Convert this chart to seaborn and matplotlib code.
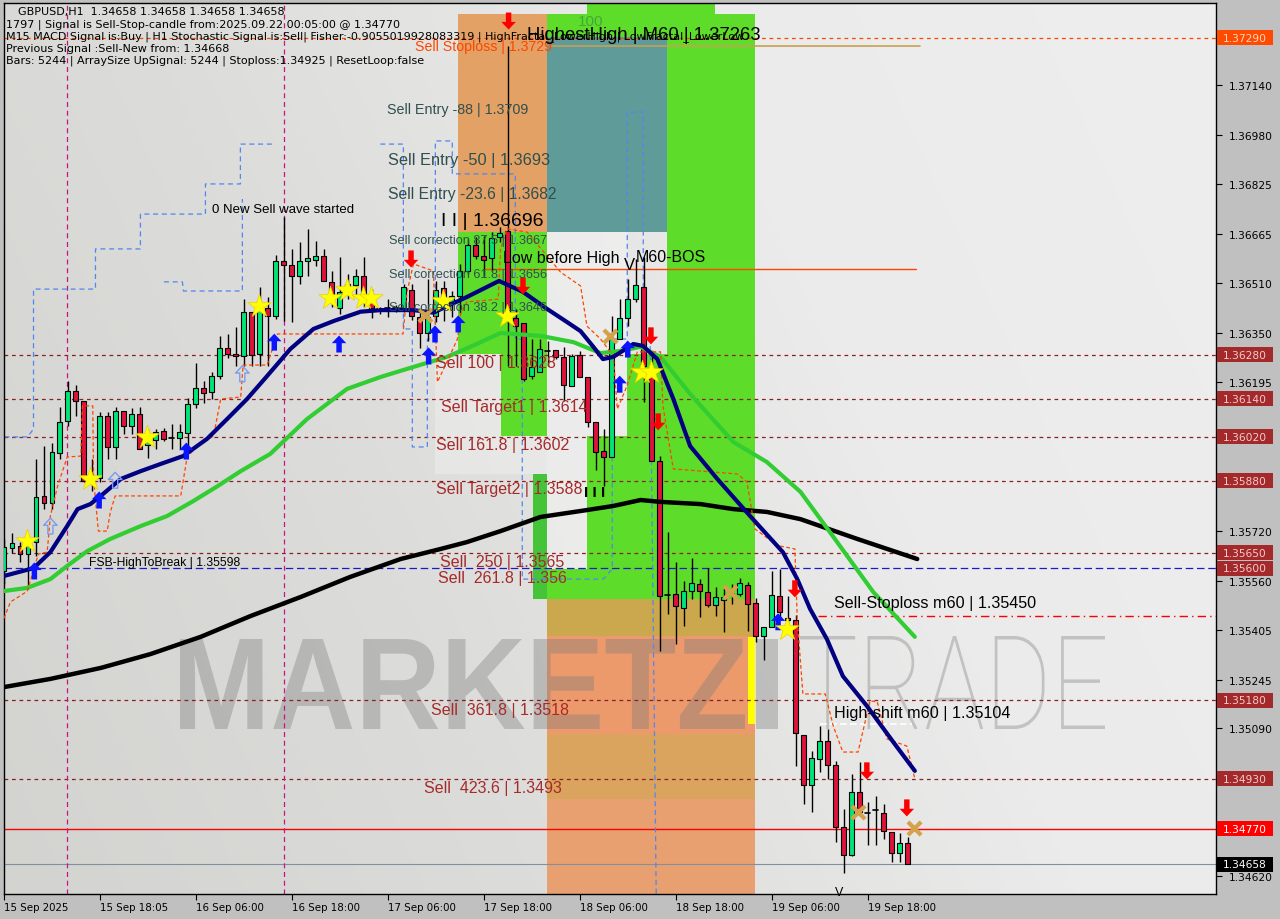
import numpy as np
import pandas as pd
import matplotlib
matplotlib.use("Agg")
import matplotlib.pyplot as plt
import seaborn as sns
from matplotlib.path import Path
from matplotlib.patches import Rectangle, PathPatch
from matplotlib.colors import LinearSegmentedColormap
from matplotlib.textpath import TextPath
from matplotlib.font_manager import FontProperties
import matplotlib.transforms as mtransforms

# ---------------- data ----------------
x_labels = ["15 Sep 2025", "15 Sep 18:05", "16 Sep 06:00", "16 Sep 18:00", "17 Sep 06:00",
            "17 Sep 18:00", "18 Sep 06:00", "18 Sep 18:00", "19 Sep 06:00", "19 Sep 18:00"]
x_label_bars = [0, 12, 24, 36, 48, 60, 72, 84, 96, 108]

opens = [
1.35592, 1.35665, 1.35671, 1.35646, 1.35684, 1.35831, 1.35808, 1.35968, 1.36070, 1.36165,
1.36133, 1.35891, 1.35888, 1.36086, 1.35987, 1.36102, 1.36054, 1.36092, 1.35993, 1.36009,
1.36038, 1.36013, 1.36016, 1.36032, 1.36124, 1.36175, 1.36162, 1.36213, 1.36302, 1.36283,
1.36277, 1.36418, 1.36283, 1.36431, 1.36404, 1.36579, 1.36567, 1.36532, 1.36579, 1.36583,
1.36595, 1.36513, 1.36431, 1.36481, 1.36503, 1.36532, 1.36445, 1.36431, 1.36427, 1.36428,
1.36427, 1.36487, 1.36401, 1.36350, 1.36404, 1.36493, 1.36449, 1.36468, 1.36548, 1.36630,
1.36595, 1.36589, 1.36656, 1.36675, 1.36398, 1.36382, 1.36213, 1.36226, 1.36296, 1.36296,
1.36274, 1.36181, 1.36280, 1.36210, 1.36067, 1.35974, 1.35955, 1.36331, 1.36398, 1.36458,
1.36498, 1.36226, 1.35942, 1.35518, 1.35518, 1.35473, 1.35527, 1.35550, 1.35524, 1.35483,
1.35499, 1.35515, 1.35518, 1.35547, 1.35490, 1.35385, 1.35413, 1.35512, 1.35442, 1.35436,
1.35069, 1.34910, 1.34993, 1.35050, 1.34974, 1.34776, 1.34687, 1.34888, 1.34824, 1.34827,
1.34821, 1.34760, 1.34693, 1.34725]
highs = [
1.35694, 1.35713, 1.35684, 1.35684, 1.35949, 1.35990, 1.36000, 1.36114, 1.36197, 1.36184,
1.36133, 1.35949, 1.36099, 1.36099, 1.36114, 1.36102, 1.36111, 1.36114, 1.36044, 1.36044,
1.36048, 1.36060, 1.36060, 1.36143, 1.36255, 1.36197, 1.36226, 1.36341, 1.36347, 1.36369,
1.36458, 1.36418, 1.36498, 1.36465, 1.36599, 1.36720, 1.36618, 1.36640, 1.36681, 1.36643,
1.36618, 1.36548, 1.36592, 1.36538, 1.36554, 1.36592, 1.36490, 1.36434, 1.36458, 1.36440,
1.36506, 1.36506, 1.36427, 1.36522, 1.36516, 1.36516, 1.36484, 1.36570, 1.36650, 1.36656,
1.36659, 1.36672, 1.36688, 1.37264, 1.36427, 1.36382, 1.36331, 1.36331, 1.36325, 1.36296,
1.36306, 1.36283, 1.36293, 1.36210, 1.36067, 1.36044, 1.36404, 1.36458, 1.36522, 1.36586,
1.36592, 1.36290, 1.35958, 1.35716, 1.35620, 1.35560, 1.35633, 1.35566, 1.35601, 1.35540,
1.35537, 1.35550, 1.35569, 1.35556, 1.35506, 1.35413, 1.35592, 1.35598, 1.35512, 1.35452,
1.35069, 1.35018, 1.35098, 1.35088, 1.34987, 1.34834, 1.34945, 1.34983, 1.34856, 1.34875,
1.34850, 1.34760, 1.34757, 1.34744]
lows = [
1.35550, 1.35649, 1.35621, 1.35535, 1.35640, 1.35789, 1.35789, 1.35949, 1.36054, 1.36086,
1.35875, 1.35847, 1.35875, 1.35949, 1.35949, 1.36029, 1.36029, 1.35981, 1.35952, 1.35981,
1.36006, 1.35981, 1.35981, 1.35981, 1.36111, 1.36127, 1.36140, 1.36204, 1.36270, 1.36245,
1.36245, 1.36245, 1.36245, 1.36245, 1.36395, 1.36388, 1.36385, 1.36506, 1.36532, 1.36564,
1.36516, 1.36434, 1.36411, 1.36458, 1.36468, 1.36434, 1.36398, 1.36411, 1.36401, 1.36418,
1.36418, 1.36392, 1.36302, 1.36325, 1.36385, 1.36388, 1.36401, 1.36415, 1.36538, 1.36586,
1.36532, 1.36548, 1.36640, 1.36245, 1.36245, 1.36197, 1.36204, 1.36226, 1.36245, 1.36267,
1.36133, 1.36181, 1.36210, 1.36051, 1.35914, 1.35862, 1.35955, 1.36331, 1.36372, 1.36449,
1.36130, 1.35942, 1.35337, 1.35455, 1.35359, 1.35416, 1.35503, 1.35445, 1.35477, 1.35448,
1.35397, 1.35487, 1.35512, 1.35400, 1.35365, 1.35308, 1.35413, 1.35439, 1.35423, 1.34971,
1.34850, 1.34824, 1.34952, 1.34930, 1.34729, 1.34630, 1.34684, 1.34811, 1.34719, 1.34719,
1.34738, 1.34665, 1.34665, 1.34658]
closes = [
1.35668, 1.35681, 1.35646, 1.35671, 1.35828, 1.35808, 1.35971, 1.36067, 1.36165, 1.36133,
1.35879, 1.35879, 1.36086, 1.35987, 1.36102, 1.36054, 1.36092, 1.35981, 1.36029, 1.36035,
1.36013, 1.36016, 1.36035, 1.36124, 1.36175, 1.36159, 1.36213, 1.36302, 1.36283, 1.36277,
1.36418, 1.36280, 1.36434, 1.36404, 1.36579, 1.36567, 1.36532, 1.36579, 1.36589, 1.36595,
1.36516, 1.36458, 1.36481, 1.36506, 1.36532, 1.36449, 1.36431, 1.36428, 1.36431, 1.36431,
1.36498, 1.36404, 1.36350, 1.36401, 1.36487, 1.36449, 1.36468, 1.36548, 1.36630, 1.36595,
1.36583, 1.36653, 1.36669, 1.36395, 1.36372, 1.36204, 1.36242, 1.36299, 1.36293, 1.36274,
1.36184, 1.36277, 1.36210, 1.36067, 1.35971, 1.35955, 1.36331, 1.36398, 1.36458, 1.36503,
1.36245, 1.35942, 1.35512, 1.35515, 1.35479, 1.35527, 1.35553, 1.35527, 1.35483, 1.35509,
1.35509, 1.35518, 1.35553, 1.35487, 1.35385, 1.35413, 1.35515, 1.35461, 1.35436, 1.35076,
1.34910, 1.34996, 1.35050, 1.34974, 1.34776, 1.34687, 1.34888, 1.34824, 1.34821, 1.34830,
1.34764, 1.34693, 1.34725, 1.34658]

# moving averages (bar index, price)
navy_idx = [0, 3.7, 5.8, 7.9, 9.2, 10.8, 12.1, 14.6, 17.1, 19.6, 22.4, 25.4, 27.9, 30.4, 32.9, 35.8,
            38.7, 41.2, 44.6, 47.1, 51.2, 53.7, 57.9, 61.9, 64.9, 67.9, 70.4, 72.1, 73.7, 74.9, 76.2,
            78.7, 79.9, 81.7, 83.7, 85.8, 89.2, 93.3, 97.4, 99.2, 100.8, 102.9, 104.9, 107.9, 111.2, 113.9]
navy_val = [1.35576, 1.35601, 1.35652, 1.35735, 1.35789, 1.35805, 1.35831, 1.35885, 1.35910, 1.35933,
            1.35958, 1.36013, 1.36076, 1.36140, 1.36213, 1.36299, 1.36363, 1.36388, 1.36418, 1.36423,
            1.36423, 1.36415, 1.36465, 1.36516, 1.36481, 1.36427, 1.36385, 1.36356, 1.36306, 1.36267,
            1.36274, 1.36315, 1.36309, 1.36267, 1.36140, 1.35990, 1.35885, 1.35767, 1.35652, 1.35566,
            1.35471, 1.35375, 1.35257, 1.35162, 1.35047, 1.34955]
green_idx = [0, 2.9, 5.8, 7.9, 10.4, 13.3, 17.1, 20.4, 23.7, 26.7, 29.6, 33.3, 37.9, 42.9, 47.1, 51.2,
             55.4, 58.3, 62.1, 67.1, 71.2, 74.6, 77.1, 79.6, 82.1, 85.8, 91.2, 95.4, 99.6, 103.9, 108.7, 113.9]
green_val = [1.35528, 1.35538, 1.35566, 1.35608, 1.35655, 1.35694, 1.35735, 1.35767, 1.35815, 1.35862,
             1.35910, 1.35965, 1.36076, 1.36172, 1.36210, 1.36242, 1.36274, 1.36306, 1.36350, 1.36341,
             1.36321, 1.36286, 1.36293, 1.36306, 1.36274, 1.36156, 1.36003, 1.35939, 1.35844, 1.35694,
             1.35525, 1.35382]
black_idx = [0, 5.8, 12.1, 18.3, 24.6, 30.8, 37.1, 43.3, 49.6, 54.6, 57.9, 62.1, 67.1, 72.9, 76.2,
             79.6, 82.1, 87.1, 91.2, 95.4, 99.6, 106.7, 114.2]
black_val = [1.35222, 1.35248, 1.35283, 1.35327, 1.35382, 1.35448, 1.35509, 1.35573, 1.35630, 1.35662,
             1.35684, 1.35719, 1.35764, 1.35786, 1.35799, 1.35818, 1.35812, 1.35805, 1.35789, 1.35780,
             1.35757, 1.35694, 1.35630]
trail_idx = [0, 0.8, 2.9, 4.3, 5.4, 5.8, 6.7, 7.9, 9.6, 9.8, 11.1, 11.2, 11.8, 12.9, 13.3, 13.9, 22.1,
             22.9, 24.2, 26.2, 27.1, 29.6, 29.9, 32.9, 34.2, 49.9, 50.4, 51.2, 53.7, 54.2, 55.4, 56.7,
             57.1, 57.9, 61.8, 62.1, 62.9, 65.4, 69.6, 72.1, 72.9, 74.6, 76.2, 76.7, 77.9, 79.2, 82.1,
             82.4, 83.7, 91.7, 92.9, 93.9, 96.7, 98.9, 99.2, 99.9, 102.7, 103.7, 104.9, 106.8, 108.3,
             109.2, 110.4, 112.9, 113.9]
trail_val = [1.35441, 1.35493, 1.35527, 1.35646, 1.35652, 1.35767, 1.35862, 1.35955, 1.35958, 1.36118,
             1.36118, 1.35885, 1.35719, 1.35719, 1.35780, 1.35831, 1.35831, 1.35955, 1.35990, 1.36022,
             1.36140, 1.36146, 1.36248, 1.36248, 1.36347, 1.36347, 1.36481, 1.36570, 1.36548, 1.36194,
             1.36258, 1.36331, 1.36411, 1.36449, 1.36458, 1.36618, 1.36682, 1.36672, 1.36544, 1.36500,
             1.36372, 1.36331, 1.36277, 1.36108, 1.36181, 1.36290, 1.36290, 1.36118, 1.35917, 1.35901,
             1.35876, 1.35726, 1.35673, 1.35662, 1.35439, 1.35200, 1.35200, 1.35098, 1.35015, 1.35015,
             1.35178, 1.35175, 1.35057, 1.35034, 1.34930]

# blue dashed price-channel pieces (bar index, price); None separates pieces
chan_idx = [0.06, 2.94, 3.69, 3.69, 11.44, 11.44, 17.06, 17.06, 25.19, 25.19, 29.56, 29.56, 33.56, None,
            20.0, 22.31, 22.44, 29.81, 29.81, None,
            47.06, 49.94, 49.94, 51.06, 51.06, 52.94, 52.94, 53.94, 53.94, 56.06, 56.06, 63.94, 63.94,
            64.81, 64.81, 74.94, 76.06, 76.06, 77.94, 77.94, 79.94, 79.94, 80.8, 81.56]
chan_val = [1.36019, 1.36019, 1.36044, 1.36490, 1.36490, 1.36618, 1.36618, 1.36729, 1.36729, 1.36825,
            1.36825, 1.36952, 1.36952, None,
            1.36513, 1.36513, 1.36484, 1.36484, 1.36777, None,
            1.36952, 1.36952, 1.36363, 1.36363, 1.35987, 1.35987, 1.36331, 1.36331, 1.36962, 1.36962,
            1.36857, 1.36857, 1.36331, 1.36331, 1.35566, 1.35566, 1.35598, 1.36331, 1.36331, 1.37054,
            1.37054, 1.36331, 1.36331, 1.34563]

# signals (bar index, price)
up_idx = [3.8, 11.9, 22.8, 33.8, 41.9, 53.1, 53.9, 56.8, 77.0, 78.0, 96.8]
up_val = [1.35592, 1.35818, 1.35974, 1.36321, 1.36315, 1.36277, 1.36347, 1.36379, 1.36187, 1.36299, 1.35430]
hollow_idx = [5.8, 13.9, 29.8]
hollow_val = [1.35735, 1.35881, 1.36220]
down_idx = [50.9, 63.1, 64.9, 80.9, 81.8, 98.9, 107.9, 112.9]
down_val = [1.36586, 1.37344, 1.36500, 1.36341, 1.36067, 1.35535, 1.34955, 1.34837]
star_idx = [2.9, 10.8, 17.9, 31.9, 40.8, 42.9, 44.9, 45.9, 54.9, 62.9, 79.8, 80.9, 97.9]
star_val = [1.35688, 1.35885, 1.36019, 1.36435, 1.36462, 1.36487, 1.36462, 1.36462, 1.36452, 1.36404,
            1.36226, 1.36226, 1.35408]
cross_idx = [52.7, 75.8, 90.8, 106.8, 113.8]
cross_val = [1.36407, 1.36341, 1.35524, 1.34824, 1.34773]

# levels
dashed_levels = [1.36280, 1.36140, 1.36020, 1.35880, 1.35650, 1.35180, 1.34930]
stoploss_level = 1.37290
fsb_level = 1.35600
m60_stop_level = 1.35450
signal_level = 1.34770
bid_level = 1.34658
highest_high = 1.37263
low_before_high = 1.36554
high_shift = 1.35104
separator_bars = [7.94, 35.06]

y_ticks = [1.37140, 1.36980, 1.36825, 1.36665, 1.36510, 1.36350, 1.36195, 1.36035,
           1.35720, 1.35560, 1.35405, 1.35245, 1.35090, 1.34620]
box_levels = [1.37290, 1.36280, 1.36140, 1.36020, 1.35880, 1.35650, 1.35600, 1.35180, 1.34930, 1.34770, 1.34658]
box_colors = ["#ff4a00"] + ["#a3292b"] * 8 + ["#ff0000", "#000000"]

# zones: (bar0, bar1, price0, price1, colour)
light_zones = [
    (67.9, 77.9, 1.36022, 1.36672, "#f2f2f2"),
    (67.9, 72.9, 1.35598, 1.36022, "#f2f2f2"),
    (53.9, 69.6, 1.35901, 1.36283, "#ececec"),
]
zones = [
    (56.8, 67.9, 1.36672, 1.37366, "#e3a165"),
    (67.9, 82.9, 1.36672, 1.37293, "#5f9c99"),
    (67.9, 93.9, 1.37293, 1.37366, "#5edc2a"),
    (72.9, 88.9, 1.37366, 1.37410, "#5edc2a"),
    (82.9, 93.9, 1.35503, 1.37293, "#5edc2a"),
    (56.8, 67.9, 1.36283, 1.36672, "#5edc2a"),
    (62.1, 67.9, 1.36022, 1.36283, "#5edc2a"),
    (66.1, 67.9, 1.35503, 1.35901, "#45c43a"),
    (72.9, 82.9, 1.35503, 1.36022, "#5edc2a"),
    (77.9, 82.9, 1.36022, 1.36283, "#5edc2a"),
    (67.9, 72.9, 1.35503, 1.35598, "#5edc2a"),
    (67.9, 93.9, 1.35385, 1.35503, "#cba84e"),
    (67.9, 93.9, 1.35072, 1.35385, "#ec9a6c"),
    (67.9, 93.9, 1.34865, 1.35072, "#daa35e"),
    (67.9, 93.9, 1.34560, 1.34865, "#e8a070"),
]

# ---------------- figure ----------------
sns.set_theme(style="white")
plt.rcParams["font.family"] = ["DejaVu Sans"]

W, H = 1280, 920
L, R, T, B = 4, 1216, 4, 895
fig = plt.figure(figsize=(W / 100, H / 100), dpi=100, facecolor="#c0c0c0")
ax = fig.add_axes([L / W, 1 - B / H, (R - L) / W, (B - T) / H])
x0, x1 = (L - 3.5) / 8, (R - 3.5) / 8
y0, y1 = 1.345627, 1.374015
ax.set_xlim(x0, x1)
ax.set_ylim(y0, y1)

# background gradient
gx, gy = np.meshgrid(np.linspace(0, 1, 300), np.linspace(0, 1, 200))
grad = np.clip(0.75 * gx + 0.25 * gy, 0, 1)
cmap = LinearSegmentedColormap.from_list("bg", ["#d3d3d0", "#dcdcda", "#ebebeb", "#eeeeee"])
ax.imshow(grad, extent=[x0, x1, y0, y1], origin="lower", aspect="auto", cmap=cmap, zorder=0)

for (a, b, p, q, c) in light_zones:
    ax.add_patch(Rectangle((a, p), b - a, q - p, facecolor=c, edgecolor="none", alpha=0.6, zorder=0.8))
for (a, b, p, q, c) in zones:
    ax.add_patch(Rectangle((a, p), b - a, q - p, facecolor=c, edgecolor="none", zorder=1))

figT = fig.transFigure
def fx(x):
    return x / W
def fy(y):
    return 1 - y / H

# watermark drawn as text paths fitted to a pixel box
def watermark(s, box, prop, color="#7a7a7a", alpha=0.36):
    tp = TextPath((0, 0), s, size=100, prop=prop)
    ext = tp.get_extents()
    bx0, bx1, by_top, by_bot = box
    tr = (mtransforms.Affine2D()
          .translate(-ext.x0, -ext.y0)
          .scale((bx1 - bx0) / ext.width / W, (by_bot - by_top) / ext.height / H)
          .translate(fx(bx0), fy(by_bot)) + figT)
    ax.add_patch(PathPatch(tp, transform=tr, facecolor=color, edgecolor="none", alpha=alpha, zorder=1.5))

watermark("MARKETZ", (180, 745, 640, 730), FontProperties(family="Liberation Sans", weight="bold"))
watermark("TRADE", (800, 1105, 637, 730), FontProperties(family="Roboto", weight="light"))
ax.add_patch(Rectangle((fx(756), fy(730)), (778 - 756) / W, 90 / H, transform=figT,
                       facecolor="#7a7a7a", alpha=0.36, edgecolor="none", zorder=1.5))
ax.add_patch(Rectangle((fx(748), fy(725)), 7 / W, 87 / H, transform=figT,
                       facecolor="#ffff00", edgecolor="none", zorder=1.6))

# horizontal levels
for lv in dashed_levels:
    ax.axhline(lv, color="#8b2020", lw=0.9, ls=(0, (3, 3)), zorder=2)
ax.axhline(stoploss_level, color="#ff4500", lw=0.9, ls=(0, (3, 3)), zorder=2)
ax.axhline(fsb_level, color="#1a1acc", lw=0.9, ls=(0, (6, 3)), zorder=2)
ax.axhline(signal_level, color="#ff0000", lw=1.0, zorder=2)
ax.axhline(bid_level, color="#8090a0", lw=0.8, zorder=2)
ax.plot([101.8, x1], [m60_stop_level] * 2, color="#ff0000", lw=1.0, ls=(0, (6, 3, 1, 3)), zorder=2)
ax.plot([67.9, 114.5], [highest_high] * 2, color="#c8a050", lw=1.2, zorder=2)
ax.plot([60.2, 114.0], [low_before_high] * 2, color="#ff4500", lw=1.0, zorder=2)
ax.plot([102.0, 113.5], [high_shift] * 2, color="#ffffff", lw=1.2, ls=(0, (4, 2)), zorder=2)
for sb in separator_bars:
    ax.axvline(sb, color="#c71585", lw=0.9, ls=(0, (4, 3)), zorder=2)

# channel
ci = np.array([np.nan if v is None else v for v in chan_idx], dtype=float)
cv = np.array([np.nan if v is None else v for v in chan_val], dtype=float)
ax.plot(ci, cv, color="#4f86f0", lw=0.9, ls=(0, (4, 3)), zorder=2.2)

# candles
idx = np.arange(len(opens))
o, h, l, c = map(np.array, (opens, highs, lows, closes))
ax.vlines(idx, l, h, color="black", lw=1.0, zorder=4)
bw = 0.62
for i in idx:
    lo, hi = min(o[i], c[i]), max(o[i], c[i])
    if hi - lo < 0.00005:
        ax.plot([i - bw / 2, i + bw / 2], [c[i], c[i]], color="black", lw=1.2, zorder=4.1)
        continue
    col = "#00e676" if c[i] >= o[i] else "#dc143c"
    ax.add_patch(Rectangle((i - bw / 2, lo), bw, hi - lo, facecolor=col, edgecolor="black",
                           lw=0.8, zorder=4.1))

# moving averages via seaborn
sns.lineplot(x=black_idx, y=black_val, ax=ax, color="black", lw=3.2, sort=False, zorder=5)
sns.lineplot(x=green_idx, y=green_val, ax=ax, color="#32cd32", lw=3.0, sort=False, zorder=5)
sns.lineplot(x=navy_idx, y=navy_val, ax=ax, color="#000080", lw=3.0, sort=False, zorder=5.2)
sns.lineplot(x=trail_idx, y=trail_val, ax=ax, color="#ff4500", lw=0.9, sort=False,
             linestyle=(0, (3, 2)), zorder=5.1)

# markers
arrow_up = Path([(0, 1), (-0.85, 0.1), (-0.32, 0.1), (-0.32, -1), (0.32, -1), (0.32, 0.1),
                 (0.85, 0.1), (0, 1)], closed=True)
arrow_dn = Path([(0, -1), (-0.85, -0.1), (-0.32, -0.1), (-0.32, 1), (0.32, 1), (0.32, -0.1),
                 (0.85, -0.1), (0, -1)], closed=True)
sns.scatterplot(x=up_idx, y=up_val, ax=ax, marker=arrow_up, s=150, color="#0a14ff",
                edgecolor="none", zorder=6)
ax.scatter(hollow_idx, hollow_val, marker=arrow_up, s=130, facecolors="none",
           edgecolors="#7a9cf0", linewidths=1.0, zorder=6)
sns.scatterplot(x=down_idx, y=down_val, ax=ax, marker=arrow_dn, s=150, color="#ff0000",
                edgecolor="none", zorder=6)
sns.scatterplot(x=star_idx, y=star_val, ax=ax, marker="*", s=310, color="#ffff00",
                edgecolor="#e8d000", linewidth=0.5, zorder=6)
sns.scatterplot(x=cross_idx, y=cross_val, ax=ax, marker="x", s=90, color="#d4a24c",
                linewidth=3, zorder=6)

# texts
def label(x, y, s, size, color="black", family="Liberation Sans", **kw):
    ax.text(fx(x), fy(y), s, transform=figT, fontsize=size, color=color, family=family,
            va="center", ha="left", zorder=7, clip_on=False, **kw)

info = ["GBPUSD,H1  1.34658 1.34658 1.34658 1.34658",
        "1797 | Signal is Sell-Stop-candle from:2025.09.22 00:05:00 @ 1.34770",
        "M15 MACD Signal is:Buy | H1 Stochastic Signal is:Sell| Fisher:-0.9055019928083319 | HighFractal_LowerHigh | LowFractal_LowerLow",
        "Previous Signal :Sell-New from: 1.34668",
        "Bars: 5244 | ArraySize UpSignal: 5244 | Stoploss:1.34925 | ResetLoop:false"]
info_xy = [(18, 12), (6, 25), (6, 37), (6, 49), (6, 61)]
for (xx, yy), s in zip(info_xy, info):
    label(xx, yy, s, 8, family="DejaVu Sans")

slate = "#2f4f4f"
brown = "#a52a2a"
label(415, 47, "Sell Stoploss | 1.3729", 10.2, color="#ff4500")
label(527, 35, "HighestHigh | M60 | 1.37263", 13.3)
label(578, 22, "100", 11, color="#3c9c3c", alpha=0.8)
label(387, 110, "Sell Entry -88 | 1.3709", 10.3, color=slate)
label(388, 160, "Sell Entry -50 | 1.3693", 11.8, color=slate)
label(388, 195, "Sell Entry -23.6 | 1.3682", 11.3, color=slate)
label(212, 210, "0 New Sell wave started", 9.5)
label(441, 221, "I I | 1.36696", 14)
label(389, 241, "Sell correction 87.5 | 1.3667", 9.2, color=slate)
label(389, 275, "Sell correction 61.8 | 1.3656", 9.2, color=slate)
label(389, 308, "Sell correction 38.2 | 1.3646", 9.2, color=slate)
label(503, 258, "Low before High", 11.5)
label(624, 266, "V", 12)
label(636, 258, "M60-BOS", 11.5)
label(436, 364, "Sell 100 | 1.3628", 11.5, color=brown)
label(441, 408, "Sell Target1 | 1.3614", 11.5, color=brown)
label(436, 446, "Sell 161.8 | 1.3602", 11.5, color=brown)
label(436, 490, "Sell Target2 | 1.3588", 11.5, color=brown)
label(584, 493, "I I I", 11, fontweight="bold")
label(440, 562, "Sell  250 | 1.3565", 11.5, color=brown)
label(438, 578, "Sell  261.8 | 1.356", 11.5, color=brown)
label(89, 563, "FSB-HighToBreak | 1.35598", 8.7)
label(431, 711, "Sell  361.8 | 1.3518", 11.5, color=brown)
label(424, 788, "Sell  423.6 | 1.3493", 11.5, color=brown)
label(834, 604, "Sell-Stoploss m60 | 1.35450", 11.6)
label(834, 714, "High-shift m60 | 1.35104", 11.6)
label(835, 893, "V", 9)

# axes styling
for sp in ax.spines.values():
    sp.set_color("black")
    sp.set_linewidth(1.0)
ax.yaxis.tick_right()
ax.set_yticks(y_ticks)
ax.set_yticklabels([f"{v:.5f}" for v in y_ticks], fontsize=7.7, family="DejaVu Sans")
ax.set_xticks(x_label_bars)
ax.set_xticklabels(x_labels, fontsize=7.4, family="DejaVu Sans", ha="left")
ax.tick_params(axis="both", which="both", direction="out", length=4, width=0.8,
               colors="black", pad=2, bottom=True, right=True, left=False)
ax.tick_params(axis="y", pad=5)
ax.set_xlabel("")
ax.set_ylabel("")
ax.grid(False)
if ax.get_legend():
    ax.get_legend().remove()

# price boxes on the right scale
trans = mtransforms.blended_transform_factory(ax.transAxes, ax.transData)
pix_price = (y1 - y0) / (B - T)
box_x0 = (1217 - L) / (R - L)
box_w = 56 / (R - L)
box_h = 15 * pix_price
for lv, col in zip(box_levels, box_colors):
    tc = "#ffffff" if col in ("#ff0000", "#000000") else ("#ffd8c0" if col == "#ff4a00" else "#f2cccc")
    ax.add_patch(Rectangle((box_x0, lv - box_h / 2), box_w, box_h, transform=trans,
                           facecolor=col, edgecolor="none", clip_on=False, zorder=8))
    ax.text(box_x0 + box_w / 2, lv, f"{lv:.5f}", transform=trans, fontsize=7.7, family="DejaVu Sans",
            color=tc, va="center", ha="center", zorder=9, clip_on=False)

fig.savefig("out.png", dpi=100, facecolor=fig.get_facecolor())
